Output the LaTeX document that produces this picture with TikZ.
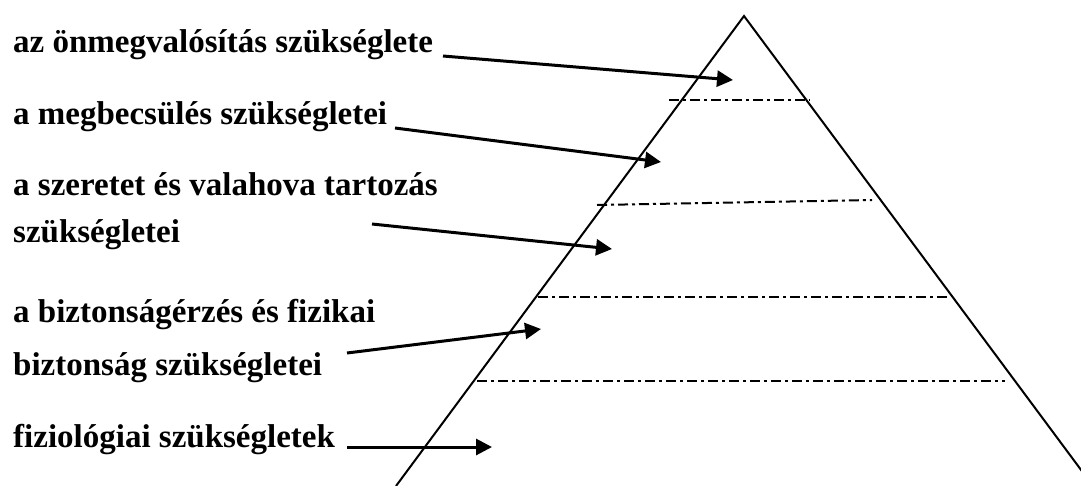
\documentclass[tikz,border=0pt]{standalone}
\usepackage{fontspec}
\setmainfont{Liberation Serif}
\usetikzlibrary{arrows.meta}
\tikzset{
  lbl/.style={anchor=base west, inner sep=0pt, font=\bfseries\fontsize{33}{40}\selectfont},
  edge/.style={line width=2pt, black},
  level/.style={line width=2pt, dash pattern=on 10pt off 4pt on 3pt off 4pt},
  pointer/.style={line width=3pt, -{Triangle[length=16pt,width=16pt]}}
}
\begin{document}
\begin{tikzpicture}[x=1pt,y=-1pt]
\useasboundingbox (0,0) rectangle (1081,485);
\begin{scope}
\clip (0,0) rectangle (1081,485);
% pyramid
\coordinate (apex) at (744,16);
\coordinate (bl) at (396,486);
\coordinate (br) at (1090,482);
\draw[edge, line join=miter] (bl) -- (apex) -- (br);
% level lines
\coordinate (l1a) at (669,100); \coordinate (l1b) at (810,100);
\coordinate (l2a) at (597,205); \coordinate (l2b) at (872,200);
\coordinate (l3a) at (538,297); \coordinate (l3b) at (948,297);
\coordinate (l4a) at (477,381); \coordinate (l4b) at (1005,381);
\draw[level] (l1a) -- (l1b);
\draw[level] (l2a) -- (l2b);
\draw[level] (l3a) -- (l3b);
\draw[level] (l4a) -- (l4b);
\end{scope}
% labels
\node[lbl] (t1) at (13,52) {az önmegvalósítás szükséglete};
\node[lbl] (t2) at (13,124) {a megbecsülés szükségletei};
\node[lbl] (t3a) at (13,195) {a szeretet és valahova tartozás};
\node[lbl] (t3b) at (13,242) {szükségletei};
\node[lbl] (t4a) at (13,322) {a biztonságérzés és fizikai};
\node[lbl] (t4b) at (13,375) {biztonság szükségletei};
\node[lbl] (t5) at (13,447) {fiziológiai szükségletek};
% arrows
\coordinate (s1) at (443,56); \coordinate (e1) at (733,80);
\coordinate (s2) at (395,128); \coordinate (e2) at (661,162);
\coordinate (s3) at (372,224); \coordinate (e3) at (612,249);
\coordinate (s4) at (347,353); \coordinate (e4) at (541,329);
\coordinate (s5) at (347,447); \coordinate (e5) at (492,447);
\draw[pointer] (s1) -- (e1);
\draw[pointer] (s2) -- (e2);
\draw[pointer] (s3) -- (e3);
\draw[pointer] (s4) -- (e4);
\draw[pointer] (s5) -- (e5);
\end{tikzpicture}
\end{document}
